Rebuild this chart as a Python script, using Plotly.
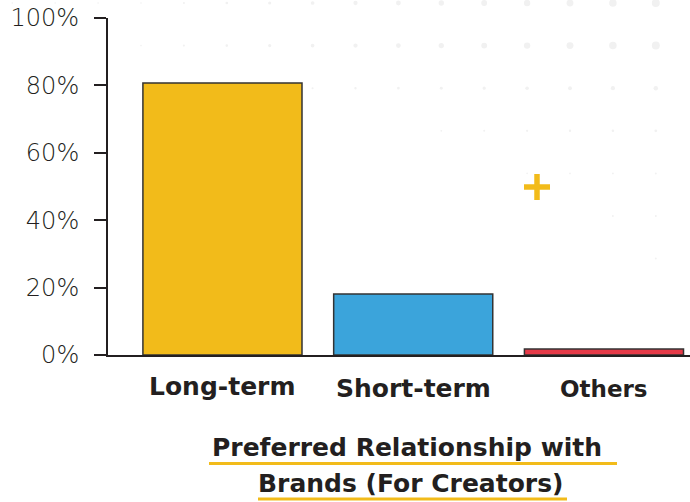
import plotly.graph_objects as go

# Survey shares for preferred brand relationship
categories = ["Long-term", "Short-term", "Others"]
shares = [80.7, 18.1, 1.8]
bar_colors = ["#F2BB1A", "#3BA4DB", "#E53A48"]
label_sizes = [25, 25, 23]
label_offsets = [-0.092, -0.100, -0.100]

y_ticks = [0, 20, 40, 60, 80, 100]
y_tick_text = [f"{v}%" for v in y_ticks]

title_lines = ["Preferred Relationship with ", "Brands (For Creators)"]

W, H = 690, 502
M_L, M_R, M_T, M_B = 108, 0, 18, 147
PW, PH = W - M_L - M_R, H - M_T - M_B
INK = "#231F20"
ACCENT = "#F2BB1A"


def px_x(px):
    return (px - M_L) / PW


def px_y(py):
    return (H - M_B - py) / PH


fig = go.Figure()
fig.add_trace(go.Bar(
    x=categories,
    y=shares,
    width=0.834,
    marker=dict(color=bar_colors, line=dict(color="#333333", width=1.5)),
    hoverinfo="x+y",
))

shapes = []

# faint dotted backdrop in the upper right
row_start = [-3, 0, 4, 7, 9, 11, 12]
for j, start in enumerate(row_start):
    cy = 3 + 42.6 * j
    fade = max(0.25, 1 - 0.22 * j) if j >= 2 else 1.0
    for i in range(start, 13):
        cx = 141 + 42.9 * i
        d = (1.6 + 6.4 * max(i, 0) / 12) * fade
        shapes.append(dict(
            type="circle", xref="paper", yref="paper", layer="below",
            x0=px_x(cx - d / 2), x1=px_x(cx + d / 2),
            y0=px_y(cy + d / 2), y1=px_y(cy - d / 2),
            fillcolor="#F1F1F1", line=dict(width=0),
        ))

# yellow plus ornament
shapes.append(dict(type="line", xref="paper", yref="paper",
                   x0=px_x(524), x1=px_x(550), y0=px_y(187), y1=px_y(187),
                   line=dict(color=ACCENT, width=5.5)))
shapes.append(dict(type="line", xref="paper", yref="paper",
                   x0=px_x(537), x1=px_x(537), y0=px_y(174), y1=px_y(200),
                   line=dict(color=ACCENT, width=5.5)))

# title underlines
shapes.append(dict(type="line", xref="paper", yref="paper",
                   x0=px_x(209), x1=px_x(617), y0=px_y(463.5), y1=px_y(463.5),
                   line=dict(color=ACCENT, width=3)))
shapes.append(dict(type="line", xref="paper", yref="paper",
                   x0=px_x(258), x1=px_x(567), y0=px_y(499), y1=px_y(499),
                   line=dict(color=ACCENT, width=3)))

annotations = []
for cat, size, off in zip(categories, label_sizes, label_offsets):
    annotations.append(dict(
        x=cat, xref="x", y=off, yref="paper", text=f"<b>{cat}</b>",
        showarrow=False, xanchor="center", yanchor="middle",
        font=dict(family="DejaVu Sans", size=size, color=INK),
    ))
for line, py in zip(title_lines, [448, 483]):
    annotations.append(dict(
        x=px_x(411), xref="paper", y=px_y(py), yref="paper",
        text=f"<b>{line}</b>", showarrow=False,
        xanchor="center", yanchor="middle",
        font=dict(family="DejaVu Sans", size=25, color=INK),
    ))

fig.update_layout(
    width=W, height=H,
    margin=dict(l=M_L, r=M_R, t=M_T, b=M_B),
    paper_bgcolor="white",
    plot_bgcolor="rgba(0,0,0,0)",
    showlegend=False,
    shapes=shapes,
    annotations=annotations,
    xaxis=dict(
        range=[-0.6, 2.451],
        showticklabels=False, ticks="",
        showline=True, linecolor=INK, linewidth=2,
        showgrid=False, zeroline=False, fixedrange=True,
    ),
    yaxis=dict(
        range=[0, 100],
        tickvals=y_ticks, ticktext=y_tick_text,
        ticks="outside", ticklen=12, tickwidth=2, tickcolor=INK,
        showline=True, linecolor=INK, linewidth=2,
        showgrid=False, zeroline=False,
        tickfont=dict(family="DejaVu Sans", size=24, color=INK, weight=300),
        ticklabelstandoff=10, fixedrange=True,
    ),
)

fig.write_html("out.html")
